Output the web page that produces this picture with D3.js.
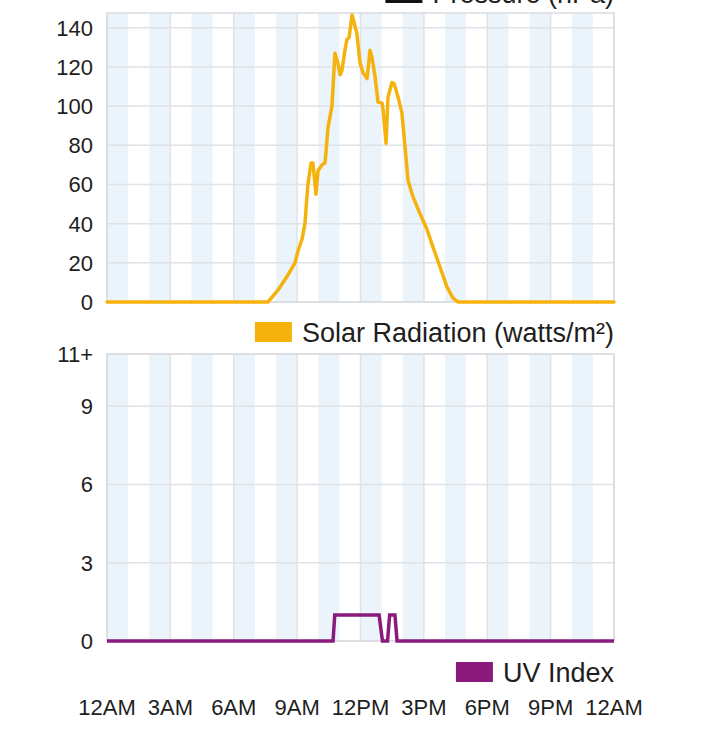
<!DOCTYPE html>
<html>
<head>
<meta charset="utf-8">
<script src="https://cdn.jsdelivr.net/npm/d3@7"></script>
<style>
  html, body { margin: 0; padding: 0; background: #fff; }
  svg { display: block; font-family: "Liberation Sans", Arial, Helvetica, sans-serif; }
</style>
</head>
<body>
<svg id="chart" width="720" height="750"></svg>
<script>
// ---- data (hours since midnight) ----
const solarHours = [0, 7.62, 8.09, 8.52, 8.90, 9.04, 9.23, 9.37, 9.51, 9.66, 9.75, 9.89, 9.99, 10.18, 10.32, 10.37, 10.46, 10.65, 10.79, 10.93, 11.03, 11.12, 11.27, 11.36, 11.46, 11.60, 11.64, 11.83, 11.98, 12.12, 12.31, 12.45, 12.54, 12.69, 12.83, 13.02, 13.07, 13.21, 13.30, 13.49, 13.59, 13.78, 13.96, 14.11, 14.25, 14.49, 14.82, 15.15, 15.43, 15.76, 16.09, 16.38, 16.62, 24];
const solarValues = [0, 0, 6, 13, 20, 26, 32, 40, 60, 71, 71, 55, 67, 70, 71, 77, 89, 100, 127, 122, 116, 118, 129, 134, 135, 146.5, 145, 137, 122, 117, 114, 128.5, 125, 115, 102, 101.5, 98, 81, 104.5, 112, 111.5, 104.5, 96.5, 79, 62, 53.5, 45, 37, 28, 18, 7.7, 2, 0, 0];

const uvHours = [0, 10.70, 10.78, 12.88, 13.04, 13.28, 13.38, 13.63, 13.73, 24];
const uvValues = [0, 0, 1, 1, 0, 0, 1, 1, 0, 0];

const xTickHours = [0, 3, 6, 9, 12, 15, 18, 21, 24];
const xTickLabels = ["12AM", "3AM", "6AM", "9AM", "12PM", "3PM", "6PM", "9PM", "12AM"];
const solarTicks = [0, 20, 40, 60, 80, 100, 120, 140];
const uvTicks = [0, 3, 6, 9, 11];
const uvTickLabels = ["0", "3", "6", "9", "11+"];

const legendPressure = "Pressure (hPa)";
const legendSolar = "Solar Radiation (watts/m²)";
const legendUV = "UV Index";

// ---- styles ----
const C = {
  band: "#ebf3fb",
  grid: "#e0e2e5",
  border: "#d9dce0",
  solar: "#f6b20c",
  uv: "#8b1a7d",
  text: "#1e1e1e",
  pressure: "#111"
};

const svg = d3.select("#chart");
const left = 107, right = 614;
const x = d3.scaleLinear().domain([0, 24]).range([left, right]);

function panel(yScale, ticks, tickLabels) {
  const [y0, y1] = yScale.range();
  const g = svg.append("g");
  const bands = d3.range(0, 24, 2);
  g.selectAll("rect.band").data(bands).join("rect")
    .attr("x", d => x(d)).attr("width", d => x(d + 1) - x(d))
    .attr("y", y1).attr("height", y0 - y1)
    .attr("fill", C.band);
  g.selectAll("line.h").data(ticks).join("line")
    .attr("x1", left).attr("x2", right)
    .attr("y1", d => yScale(d)).attr("y2", d => yScale(d))
    .attr("stroke", C.grid).attr("stroke-width", 1.5);
  g.selectAll("line.v").data(xTickHours).join("line")
    .attr("x1", d => x(d)).attr("x2", d => x(d))
    .attr("y1", y1).attr("y2", y0)
    .attr("stroke", C.grid).attr("stroke-width", 1.5);
  g.append("rect").attr("x", left).attr("y", y1)
    .attr("width", right - left).attr("height", y0 - y1)
    .attr("fill", "none").attr("stroke", C.border).attr("stroke-width", 1.5);
  g.selectAll("text.yl").data(ticks).join("text")
    .attr("x", 93).attr("y", d => yScale(d)).attr("dy", "0.36em")
    .attr("text-anchor", "end").attr("font-size", 22).attr("fill", C.text)
    .text((d, i) => tickLabels[i]);
  return g;
}

function legend(label, color, baseline) {
  const g = svg.append("g");
  const t = g.append("text").attr("x", right).attr("y", baseline)
    .attr("text-anchor", "end").attr("font-size", 27).attr("fill", C.text)
    .text(label);
  const w = t.node().getComputedTextLength();
  g.append("rect").attr("x", right - w - 10 - 37).attr("y", baseline - 20)
    .attr("width", 37).attr("height", 20).attr("fill", color);
}

// ---- top panel: solar radiation ----
const ySolar = d3.scaleLinear().domain([0, 147.5]).range([302, 13]);
legend(legendPressure, C.pressure, 3);
panel(ySolar, solarTicks, solarTicks.map(String));
const solarData = solarHours.map((h, i) => [h, solarValues[i]]);
svg.append("path").datum(solarData)
  .attr("fill", "none").attr("stroke", C.solar).attr("stroke-width", 3.5)
  .attr("stroke-linejoin", "round").attr("stroke-linecap", "round")
  .attr("d", d3.line().x(d => x(d[0])).y(d => ySolar(d[1])));
legend(legendSolar, C.solar, 342);

// ---- bottom panel: UV index ----
const yUV = d3.scaleLinear().domain([0, 11]).range([641, 354]);
panel(yUV, uvTicks, uvTickLabels);
const uvData = uvHours.map((h, i) => [h, uvValues[i]]);
svg.append("path").datum(uvData)
  .attr("fill", "none").attr("stroke", C.uv).attr("stroke-width", 3.5)
  .attr("stroke-linejoin", "miter")
  .attr("d", d3.line().x(d => x(d[0])).y(d => yUV(d[1])));
legend(legendUV, C.uv, 682);

// ---- x axis labels ----
svg.selectAll("text.xl").data(xTickHours).join("text")
  .attr("x", d => x(d)).attr("y", 715)
  .attr("text-anchor", "middle").attr("font-size", 22).attr("fill", C.text)
  .text((d, i) => xTickLabels[i]);
</script>
</body>
</html>
